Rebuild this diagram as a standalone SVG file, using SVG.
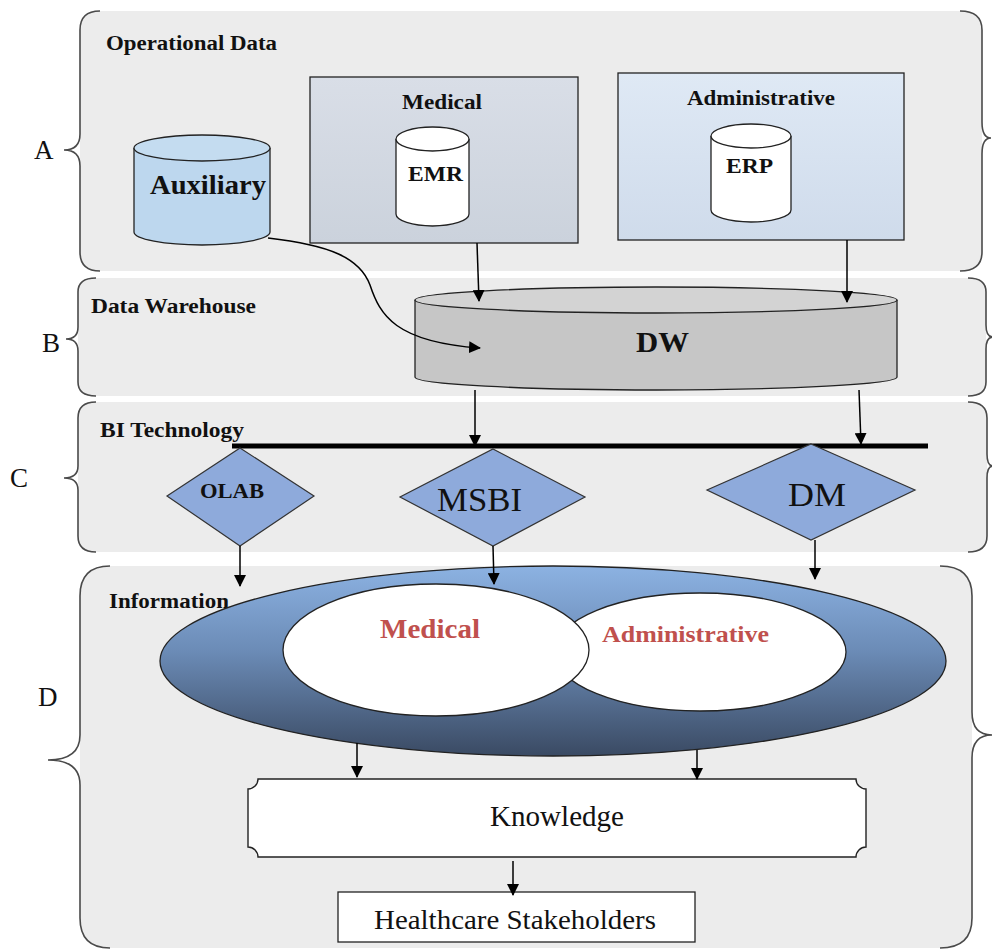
<svg xmlns="http://www.w3.org/2000/svg" width="992" height="951" viewBox="0 0 992 951">
  <style>
    .panel { fill: #ececec; stroke: none; }
    .brace { fill: none; stroke: #4a4a4a; stroke-width: 1.6; }
    .lbl { font-family: "Liberation Serif", "Times New Roman", "DejaVu Serif", serif; fill: #111; }
    .b { font-weight: 700; }
    .letter { font-family: "Liberation Serif", "Times New Roman", serif; font-size: 27px; fill: #111; }
    .edge { stroke: #000; stroke-width: 1.5; fill: none; marker-end: url(#arr); }
    .node { stroke: #222; stroke-width: 1.3; }
    .dia { fill: #8eaadb; stroke: #333; stroke-width: 1.2; }
    .red { fill: #c0504d; }
  </style>
  <defs>
    <marker id="arr" viewBox="0 0 12 12" refX="11" refY="6" markerWidth="12" markerHeight="12" markerUnits="userSpaceOnUse" orient="auto">
      <path d="M0,0 L12,6 L0,12 Z" fill="#000"/>
    </marker>
    <linearGradient id="gMed" x1="0" y1="0" x2="0" y2="1">
      <stop offset="0" stop-color="#d9dee7"/>
      <stop offset="1" stop-color="#cbd2dc"/>
    </linearGradient>
    <linearGradient id="gAdm" x1="0" y1="0" x2="0" y2="1">
      <stop offset="0" stop-color="#dfe9f5"/>
      <stop offset="1" stop-color="#cfdbeb"/>
    </linearGradient>
    <linearGradient id="gInfo" x1="0" y1="0" x2="0" y2="1">
      <stop offset="0" stop-color="#8cb2e2"/>
      <stop offset="0.45" stop-color="#6b8bb6"/>
      <stop offset="1" stop-color="#3a4a63"/>
    </linearGradient>
  </defs>

  <!-- Layer panels with braces -->
  <g id="panel-a">
    <path class="panel" d="M100,11 L960,11 Q982,11 982,30 L982,252 Q982,271 960,271 L100,271 Q80,271 80,252 L80,30 Q80,11 100,11 Z"/>
    <path class="brace" d="M100,11 Q80,11 80,30 L80,134 Q80,150 64,150 Q80,150 80,166 L80,252 Q80,271 100,271"/>
    <path class="brace" d="M960,11 Q982,11 982,30 L982,122 Q982,138 991,138 Q982,138 982,154 L982,252 Q982,271 960,271"/>
    <text class="letter" x="34" y="159">A</text>
    <text class="lbl b" x="106" y="50" font-size="20" textLength="171" lengthAdjust="spacingAndGlyphs">Operational Data</text>
  </g>
  <g id="panel-b">
    <path class="panel" d="M96,278 L968,278 Q986,278 986,292 L986,382 Q986,396 968,396 L96,396 Q78,396 78,382 L78,292 Q78,278 96,278 Z"/>
    <path class="brace" d="M96,278 Q78,278 78,292 L78,327 Q78,339 66,339 Q78,339 78,351 L78,382 Q78,396 96,396"/>
    <path class="brace" d="M968,278 Q986,278 986,292 L986,325 Q986,337 993,337 Q986,337 986,349 L986,382 Q986,396 968,396"/>
    <text class="letter" x="42" y="352">B</text>
    <text class="lbl b" x="91" y="313" font-size="20" textLength="165" lengthAdjust="spacingAndGlyphs">Data Warehouse</text>
  </g>
  <g id="panel-c">
    <path class="panel" d="M96,402 L968,402 Q987,402 987,418 L987,536 Q987,552 968,552 L96,552 Q78,552 78,536 L78,418 Q78,402 96,402 Z"/>
    <path class="brace" d="M96,402 Q78,402 78,418 L78,466 Q78,478 64,478 Q78,478 78,490 L78,536 Q78,552 96,552"/>
    <path class="brace" d="M968,402 Q987,402 987,418 L987,454 Q987,466 993,466 Q987,466 987,478 L987,536 Q987,552 968,552"/>
    <text class="letter" x="10" y="487">C</text>
    <text class="lbl b" x="100" y="437" font-size="20" textLength="144" lengthAdjust="spacingAndGlyphs">BI Technology</text>
  </g>
  <g id="panel-d">
    <path class="panel" d="M110,566 L940,566 Q972,566 972,596 L972,918 Q972,948 940,948 L110,948 Q80,948 80,918 L80,596 Q80,566 110,566 Z"/>
    <path class="brace" d="M110,566 Q80,566 80,596 L80,735 Q80,760 48,760 Q80,760 80,785 L80,918 Q80,948 110,948"/>
    <path class="brace" d="M940,566 Q972,566 972,596 L972,712 Q972,735 992,735 Q972,735 972,758 L972,918 Q972,948 940,948"/>
    <text class="letter" x="38" y="706">D</text>
    <text class="lbl b" x="109" y="608" font-size="20" textLength="120" lengthAdjust="spacingAndGlyphs">Information</text>
  </g>

  <!-- Operational sources -->
  <g id="auxiliary">
    <path class="node" fill="#bdd7ee" d="M134,148 L134,232 A68,13 0 0 0 270,232 L270,148"/>
    <ellipse class="node" cx="202" cy="148" rx="68" ry="13" fill="#c4dcf0"/>
    <text class="lbl b" x="150" y="194" font-size="27" textLength="116" lengthAdjust="spacingAndGlyphs">Auxiliary</text>
  </g>
  <g id="medical">
    <rect class="node" x="310" y="77" width="268" height="166" fill="url(#gMed)"/>
    <text class="lbl b" x="402" y="109" font-size="22" textLength="80" lengthAdjust="spacingAndGlyphs">Medical</text>
    <g id="emr">
      <path class="node" fill="#fff" d="M396,139 L396,214 A36.5,12 0 0 0 469,214 L469,139"/>
      <ellipse class="node" cx="432.5" cy="139" rx="36.5" ry="12" fill="#fff"/>
      <text class="lbl b" x="408" y="181" font-size="21" textLength="55" lengthAdjust="spacingAndGlyphs">EMR</text>
    </g>
  </g>
  <g id="administrative">
    <rect class="node" x="618" y="73" width="286" height="167" fill="url(#gAdm)"/>
    <text class="lbl b" x="687" y="105" font-size="21" textLength="148" lengthAdjust="spacingAndGlyphs">Administrative</text>
    <g id="erp">
      <path class="node" fill="#fff" d="M711,136 L711,210 A40,12 0 0 0 791,210 L791,136"/>
      <ellipse class="node" cx="751" cy="136" rx="40" ry="12" fill="#fff"/>
      <text class="lbl b" x="726" y="173" font-size="21" textLength="47" lengthAdjust="spacingAndGlyphs">ERP</text>
    </g>
  </g>

  <!-- Data warehouse -->
  <g id="dw">
    <path class="node" fill="#c6c6c6" d="M415,300 L415,377 A241,13 0 0 0 897,377 L897,300"/>
    <ellipse class="node" cx="656" cy="300" rx="241" ry="13" fill="#d3d3d3"/>
    <text class="lbl b" x="636" y="352" font-size="29" textLength="53" lengthAdjust="spacingAndGlyphs">DW</text>
  </g>

  <!-- BI bus -->
  <g id="bi-bus">
    <line x1="232" y1="446" x2="928" y2="446" stroke="#000" stroke-width="5"/>
  </g>
  <g id="olab">
    <polygon class="dia" points="240,448 314,496 240,546 167,496"/>
    <text class="lbl b" x="200" y="498" font-size="20" textLength="64" lengthAdjust="spacingAndGlyphs">OLAB</text>
  </g>
  <g id="msbi">
    <polygon class="dia" points="493,449 585,497 493,546 400,497"/>
    <text class="lbl" x="437" y="511" font-size="34" textLength="85" lengthAdjust="spacingAndGlyphs">MSBI</text>
  </g>
  <g id="dm">
    <polygon class="dia" points="811,444 915,490 811,540 707,490"/>
    <text class="lbl" x="788" y="506" font-size="34" textLength="58" lengthAdjust="spacingAndGlyphs">DM</text>
  </g>

  <!-- Information -->
  <g id="information">
    <ellipse cx="553" cy="661" rx="393" ry="95" fill="url(#gInfo)" stroke="#222" stroke-width="1.3"/>
    <ellipse id="info-admin" cx="700" cy="652" rx="146" ry="59" fill="#fff" stroke="#222" stroke-width="1.3"/>
    <ellipse id="info-medical" cx="436" cy="650" rx="153" ry="66" fill="#fff" stroke="#222" stroke-width="1.3"/>
    <text class="lbl b red" x="380" y="638" font-size="27" textLength="100" lengthAdjust="spacingAndGlyphs">Medical</text>
    <text class="lbl b red" x="602" y="642" font-size="24" textLength="167" lengthAdjust="spacingAndGlyphs">Administrative</text>
  </g>

  <g id="knowledge">
    <path fill="#fff" stroke="#222" stroke-width="1.4" d="M258,779 L856,779 A10,10 0 0 0 866,789 L866,847 A10,10 0 0 0 856,857 L258,857 A10,10 0 0 0 248,847 L248,789 A10,10 0 0 0 258,779 Z"/>
    <text class="lbl" x="490" y="826" font-size="29" textLength="134" lengthAdjust="spacingAndGlyphs">Knowledge</text>
  </g>
  <g id="stakeholders">
    <rect x="338" y="892" width="357" height="50" fill="#fff" stroke="#222" stroke-width="1.3"/>
    <text class="lbl" x="374" y="929" font-size="27" textLength="282" lengthAdjust="spacingAndGlyphs">Healthcare Stakeholders</text>
  </g>

  <!-- Connectors -->
  <g id="connectors">
    <path class="edge" d="M477,243 L479,301"/>
    <path class="edge" d="M847,240 L847,302"/>
    <path class="edge" d="M268,238 C330,245 360,258 370,285 C380,315 395,342 480,348"/>
    <path class="edge" d="M475,390 L475,446"/>
    <path class="edge" d="M859,390 L861,444"/>
    <path class="edge" d="M240,546 L240,586"/>
    <path class="edge" d="M493,546 L494,584"/>
    <path class="edge" d="M815,540 L815,579"/>
    <path class="edge" d="M357,743 L357,777"/>
    <path class="edge" d="M697,750 L697,779"/>
    <path class="edge" d="M513,861 L513,895"/>
  </g>
</svg>
